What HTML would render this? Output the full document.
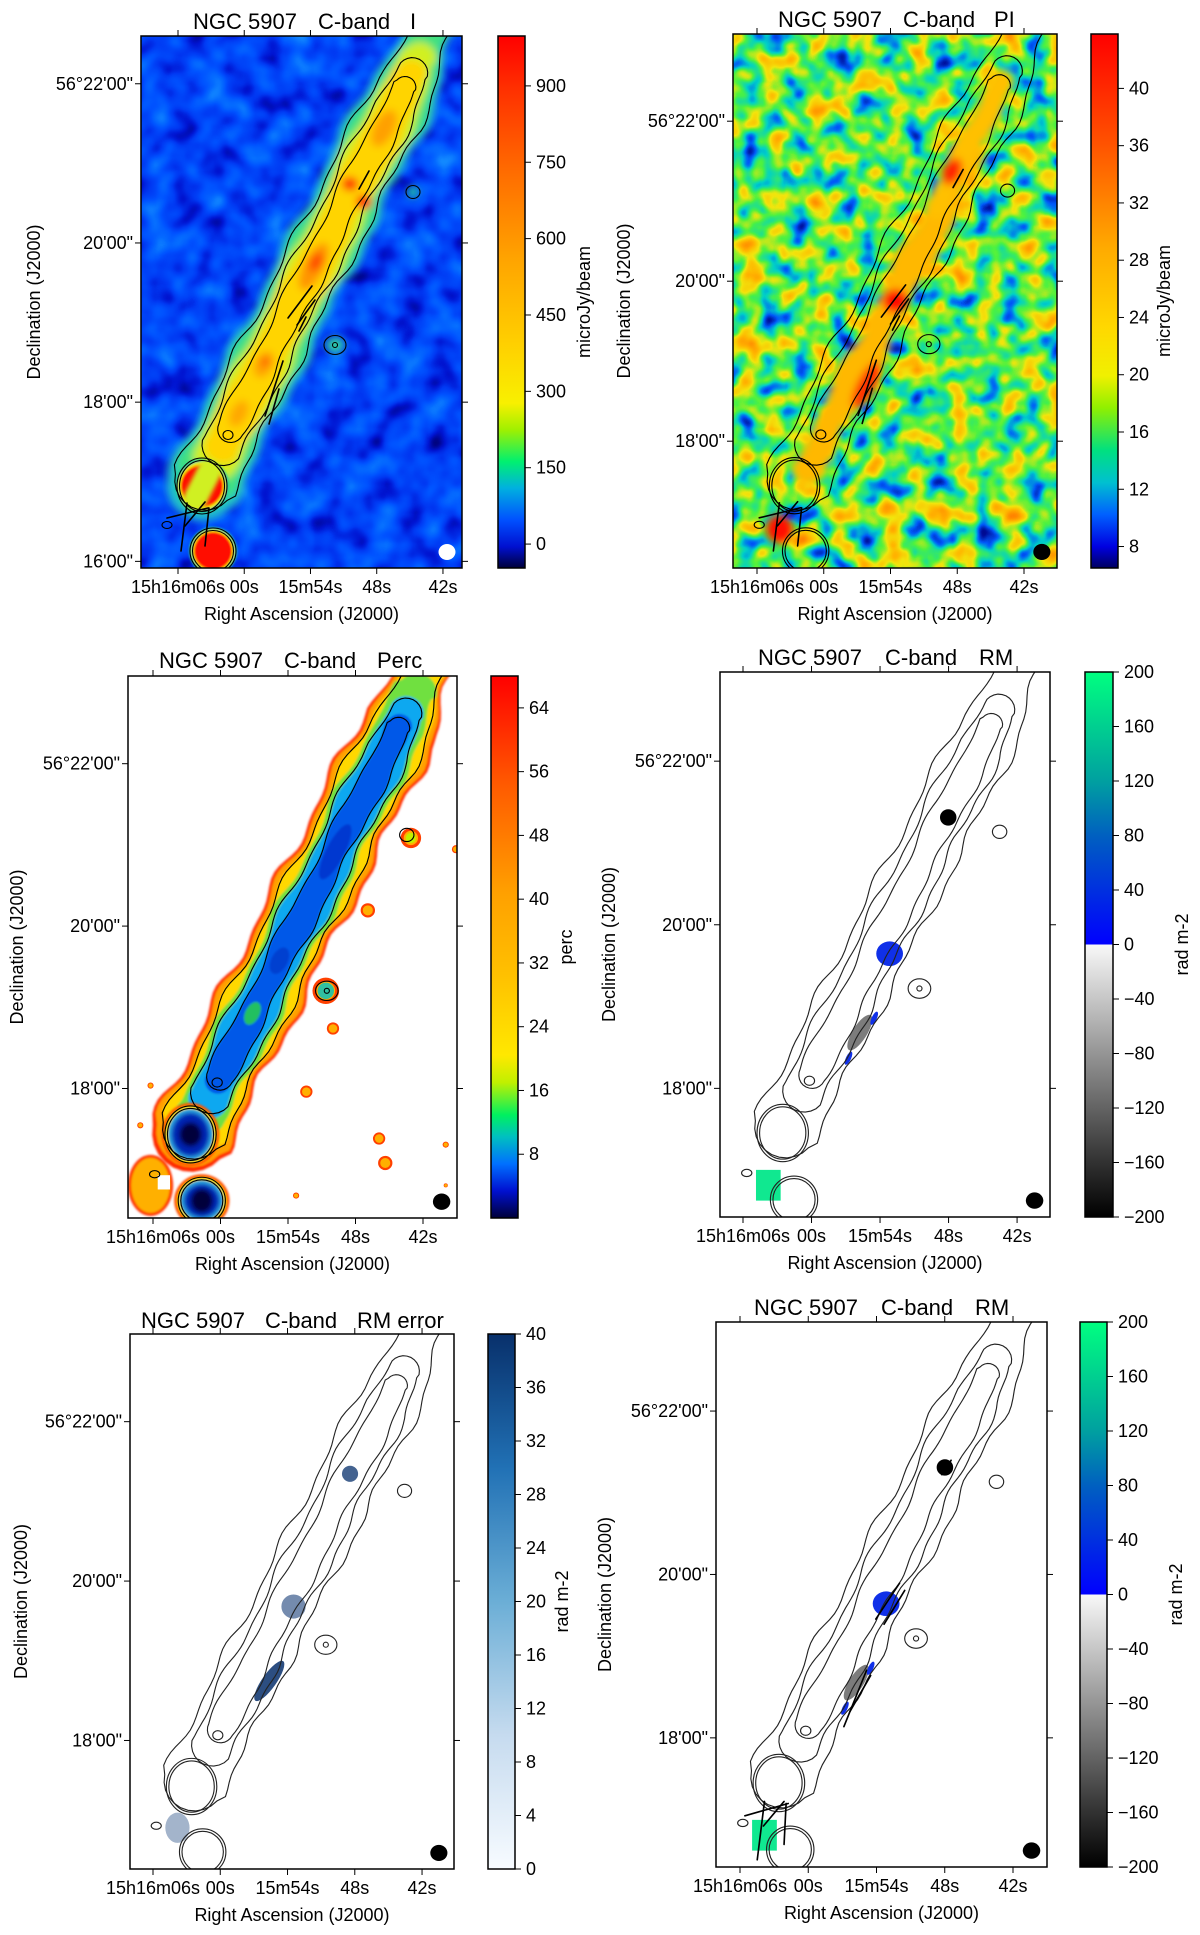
<!DOCTYPE html>
<html><head><meta charset="utf-8"><title>NGC 5907 C-band maps</title>
<style>
html,body{margin:0;padding:0;background:#fff;}
svg{display:block;font-family:"Liberation Sans",Arial,sans-serif;}
</style></head>
<body>
<svg id="fig" xmlns="http://www.w3.org/2000/svg" width="1200" height="1935" viewBox="0 0 1200 1935">
<defs>
<filter id="noise-i" x="0" y="0" width="100%" height="100%" color-interpolation-filters="sRGB">
 <feTurbulence type="fractalNoise" baseFrequency="0.035" numOctaves="2" seed="7"/>
 <feColorMatrix type="matrix" values="1 0 0 0 0 1 0 0 0 0 1 0 0 0 0 0 0 0 0 1"/>
 <feComponentTransfer>
  <feFuncR type="table" tableValues="0 0 0 0 0 0.02 0.08 0.15"/>
  <feFuncG type="table" tableValues="0 0.02 0.08 0.22 0.32 0.42 0.55 0.65"/>
  <feFuncB type="table" tableValues="0.35 0.55 0.82 0.95 1 1 1 0.95"/>
 </feComponentTransfer>
</filter>
<filter id="noise-pi" x="0" y="0" width="100%" height="100%" color-interpolation-filters="sRGB">
 <feTurbulence type="fractalNoise" baseFrequency="0.042" numOctaves="2" seed="11"/>
 <feColorMatrix type="matrix" values="1 0 0 0 0 1 0 0 0 0 1 0 0 0 0 0 0 0 0 1"/>
 <feComponentTransfer>
  <feFuncR type="table" tableValues="0 0 0 0 0.3 0.95 1 1 1"/>
  <feFuncG type="table" tableValues="0 0.05 0.35 0.82 0.95 0.9 0.72 0.55 0.4"/>
  <feFuncB type="table" tableValues="0.35 0.6 0.98 0.78 0.25 0.05 0 0 0"/>
 </feComponentTransfer>
</filter>
<filter id="blur4" x="-30%" y="-30%" width="160%" height="160%"><feGaussianBlur stdDeviation="4"/></filter>
<filter id="blur2" x="-30%" y="-30%" width="160%" height="160%"><feGaussianBlur stdDeviation="2"/></filter>
<filter id="blur1" x="-30%" y="-30%" width="160%" height="160%"><feGaussianBlur stdDeviation="1"/></filter>
</defs>
</svg>
<script>
// ---------- data arrays ----------
const raTickSeconds = [66, 60, 54, 48, 42];
const raTickLabels = ['15h16m06s', '00s', '15m54s', '48s', '42s'];
const decTickArcmin = [22, 20, 18, 16];
const decTickLabels = ['56°22\'00"', '20\'00"', '18\'00"', '16\'00"'];
const cbarTicksI = [0, 150, 300, 450, 600, 750, 900];
const cbarRangeI = [-47, 998];
const cbarTicksPI = [8, 12, 16, 20, 24, 28, 32, 36, 40];
const cbarRangePI = [6.5, 43.8];
const cbarTicksPerc = [8, 16, 24, 32, 40, 48, 56, 64];
const cbarRangePerc = [0, 68];
const cbarTicksRM = [-200, -160, -120, -80, -40, 0, 40, 80, 120, 160, 200];
const cbarRangeRM = [-200, 200];
const cbarTicksErr = [0, 4, 8, 12, 16, 20, 24, 28, 32, 36, 40];
const cbarRangeErr = [0, 40];
const rmPatchValues = [-200, 30, -100, 20, 15, 190];
const rmErrPatchValues = [30, 22, 34, 14];

// ---------- layout ----------
const NS = 'http://www.w3.org/2000/svg';
const svg = document.getElementById('fig');
function mk(tag, attrs, parent) {
  const e = document.createElementNS(NS, tag);
  for (const k in attrs) e.setAttribute(k, attrs[k]);
  (parent || svg).appendChild(e);
  return e;
}
const panels = [
 {key:'stokes-i', box:[141,36,321,532], cb:[498,36,27,532], ty:21, tx:[193,318,410], tt:['NGC 5907','C-band','I'], ra66:178, pps:11.04, decTop:22.60, ppa:79.6, ytx:35, cblx:585, cbl:'microJy/beam', ticks:cbarTicksI, range:cbarRangeI, cmap:'jetI', beam:'#fff'},
 {key:'polarized-intensity', box:[733,34,324,534], cb:[1091,34,27,534], ty:19, tx:[778,903,994], tt:['NGC 5907','C-band','PI'], ra66:757, pps:11.125, decTop:23.09, ppa:80, ytx:625, cblx:1165, cbl:'microJy/beam', ticks:cbarTicksPI, range:cbarRangePI, cmap:'jetPI', beam:'#000'},
 {key:'polarization-fraction', box:[128,676,329,542], cb:[491,676,27,542], ty:660, tx:[159,284,377], tt:['NGC 5907','C-band','Perc'], ra66:153, pps:11.25, decTop:23.08, ppa:81.2, ytx:18, cblx:567, cbl:'perc', ticks:cbarTicksPerc, range:cbarRangePerc, cmap:'jetPerc', beam:'#000'},
 {key:'rotation-measure', box:[720,672,330,545], cb:[1085,672,28,545], ty:657, tx:[758,885,979], tt:['NGC 5907','C-band','RM'], ra66:743, pps:11.42, decTop:23.09, ppa:81.8, ytx:610, cblx:1183, cbl:'rad m-2', ticks:cbarTicksRM, range:cbarRangeRM, cmap:'rm', beam:'#000'},
 {key:'rm-error', box:[130,1334,324,535], cb:[488,1334,27,535], ty:1320, tx:[141,265,357], tt:['NGC 5907','C-band','RM error'], ra66:153, pps:11.21, decTop:23.10, ppa:79.7, ytx:22, cblx:563, cbl:'rad m-2', ticks:cbarTicksErr, range:cbarRangeErr, cmap:'blues', beam:'#000'},
 {key:'rotation-measure-vectors', box:[716,1322,331,545], cb:[1080,1322,27,545], ty:1307, tx:[754,881,975], tt:['NGC 5907','C-band','RM'], ra66:740, pps:11.375, decTop:23.09, ppa:81.7, ytx:606, cblx:1177, cbl:'rad m-2', ticks:cbarTicksRM, range:cbarRangeRM, cmap:'rm', beam:'#000'}
];
const cmaps = {
 jetI: [[0,'#00003a'],[0.04,'#0010d0'],[0.09,'#0050ff'],[0.15,'#00b0e0'],[0.2,'#00f070'],[0.26,'#a0f000'],[0.31,'#f8f000'],[0.42,'#ffd000'],[0.58,'#ffa400'],[0.75,'#ff6a00'],[0.9,'#ff3000'],[1,'#ff0000']],
 jetPI: [[0,'#000060'],[0.04,'#0000e0'],[0.1,'#0060ff'],[0.16,'#00c0d0'],[0.22,'#00e080'],[0.3,'#90f000'],[0.36,'#f0f000'],[0.45,'#ffd800'],[0.6,'#ffaa00'],[0.8,'#ff5000'],[1,'#ff0000']],
 jetPerc: [[0,'#00003a'],[0.05,'#0010d0'],[0.1,'#0070ff'],[0.15,'#00c0c0'],[0.19,'#00f060'],[0.25,'#c0f000'],[0.3,'#ffe800'],[0.45,'#ffc000'],[0.6,'#ffa000'],[0.8,'#ff5a00'],[1,'#ff0000']],
 rm: [[0,'#000000'],[0.5,'#f8f8f8'],[0.5,'#0000ff'],[0.7,'#0060c0'],[0.8,'#00a0a0'],[1,'#00ff80']],
 blues: [[0,'#f7fbff'],[0.25,'#c6dbef'],[0.5,'#6baed6'],[0.75,'#2171b5'],[1,'#08306b']]
};
const defs = svg.querySelector('defs');
for (const name in cmaps) {
  const g = mk('linearGradient', {id:'cm-'+name, x1:0, y1:1, x2:0, y2:0}, defs);
  cmaps[name].forEach(s => mk('stop', {offset:s[0], 'stop-color':s[1]}, g));
}

// ---------- galaxy model geometry (P1 local frame 321x532) ----------
const DIR = [0.454, -0.891], PERP = [0.891, 0.454], CEN = [175, 226];
function gp(t, n) { return [CEN[0]+t*DIR[0]+n*PERP[0], CEN[1]+t*DIR[1]+n*PERP[1]]; }
function taper(t, hw, ts) { return t > ts ? hw * Math.max(0.45, 1 - (t - ts) / 160) : hw; }
function capsule(t0, t1, hw, wob, ph, ts) {
  ts = ts === undefined ? 9999 : ts;
  const pts = [], N = 80;
  const hwEnd = taper(t1, hw, ts);
  for (let i = 0; i <= N; i++) { const t = t0+(t1-t0)*i/N; pts.push(gp(t, taper(t, hw, ts)+wob*Math.sin(t*0.045+ph)+wob*0.6*Math.sin(t*0.12+ph*2))); }
  for (let i = 1; i < 12; i++) { const a = Math.PI*i/12; pts.push(gp(t1+hwEnd*Math.sin(a), hwEnd*Math.cos(a))); }
  for (let i = N; i >= 0; i--) { const t = t0+(t1-t0)*i/N; pts.push(gp(t, -(taper(t, hw, ts)+wob*Math.sin(t*0.05+ph+1.3)+wob*0.6*Math.sin(t*0.1+ph*3)))); }
  for (let i = 1; i < 12; i++) { const a = Math.PI*i/12; pts.push(gp(t0-hw*Math.sin(a), -hw*Math.cos(a))); }
  return 'M' + pts.map(p => p[0].toFixed(1)+','+p[1].toFixed(1)).join('L') + 'Z';
}
function ellAt(t, n, rx, ry, fill, parent, filt) {
  const p = gp(t, n);
  const e = mk('ellipse', {cx:p[0], cy:p[1], rx:rx, ry:ry, fill:fill, transform:`rotate(-63 ${p[0]} ${p[1]})`}, parent);
  if (filt) e.setAttribute('filter', filt);
  return e;
}
const B1 = [61, 450], B2 = [72, 515];

function drawContours(g, stroke) {
  const c = mk('g', {fill:'none', stroke:stroke, 'stroke-width':1.1}, g);
  
  
  mk('path', {d:capsule(-245, 330, 30, 3, 0, 190)}, c);
  mk('path', {d:capsule(-205, 212, 21, 2.5, 1, 170)}, c);
  mk('path', {d:capsule(-188, 196, 13, 2, 2, 170)}, c);
  mk('ellipse', {cx:B1[0], cy:B1[1], rx:25, ry:28}, c);
  mk('ellipse', {cx:B1[0], cy:B1[1], rx:22.5, ry:25.5}, c);
  mk('ellipse', {cx:B2[0], cy:B2[1], rx:23, ry:23}, c);
  mk('ellipse', {cx:B2[0], cy:B2[1], rx:20.5, ry:20.5}, c);
  mk('ellipse', {cx:272, cy:156, rx:7, ry:6.5}, c);
  mk('ellipse', {cx:194, cy:309, rx:11, ry:9.5}, c);
  mk('ellipse', {cx:194, cy:309, rx:2.5, ry:2.5}, c);
  mk('ellipse', {cx:87, cy:399, rx:5, ry:4.5}, c);
  mk('ellipse', {cx:26, cy:489, rx:5, ry:3.5}, c);
}
function drawVectors(g, set) {
  const v = mk('g', {stroke:'#000', 'stroke-width':1.6, 'stroke-linecap':'round'}, g);
  
  
  set.forEach(s => mk('line', {x1:s[0], y1:s[1], x2:s[2], y2:s[3]}, v));
}
const vecI = [[218,153,228,135],[147,282,171,250],[156,289,174,264],[158,295,165,281],[124,380,142,325],[128,388,138,353],[26,482,67,472],[40,515,46,467],[64,510,68,472],[44,490,64,466]];
const vecRM = [[219,149,228,135],[155,290,178,255],[163,295,183,262],[124,395,146,340],[130,380,150,345],[28,482,70,470],[40,525,47,468],[66,510,68,470],[46,492,66,468]];

// ---------- panels ----------
panels.forEach((P, idx) => {
  const [x0, y0, w, h] = P.box;
  const pg = mk('g', {});
  
  
  const clip = mk('clipPath', {id:'clip'+idx}, defs);
  mk('rect', {x:x0, y:y0, width:w, height:h}, clip);
  const plot = mk('g', {'clip-path':`url(#clip${idx})`}, pg);
  
  
  if (idx === 0) mk('rect', {x:x0, y:y0, width:w, height:h, filter:'url(#noise-i)'}, plot);
  else if (idx === 1) mk('rect', {x:x0, y:y0, width:w, height:h, filter:'url(#noise-pi)'}, plot);
  else mk('rect', {x:x0, y:y0, width:w, height:h, fill:'#fff'}, plot);
  const m = mk('g', {transform:`translate(${x0},${y0}) scale(${w/321},${h/532})`}, plot);

  if (idx === 0) {
    const gl = mk('g', {filter:'url(#blur4)'}, m);
    mk('path', {d:capsule(-250, 340, 36, 3, 0, 190), fill:'#20c0c8'}, gl);
    mk('path', {d:capsule(-240, 300, 30, 3, 0, 190), fill:'#40e080'}, gl);
    mk('path', {d:capsule(-218, 228, 24, 2.5, 1, 180), fill:'#d0f020'}, gl);
    mk('path', {d:capsule(-205, 210, 19, 2, 2, 180), fill:'#ffd400'}, gl);
    ellAt(150, 0, 20, 10, '#ffa000', gl); ellAt(-5, 0, 26, 10, '#ff9400', gl);
    ellAt(-115, 0, 14, 9, '#ffa400', gl); ellAt(-170, 0, 14, 8, '#ffa800', gl);
    ellAt(0, 0, 10, 6, '#ff4a00', gl); ellAt(-112, 0, 6, 5, '#ff7000', gl);
    mk('ellipse', {cx:209, cy:148, rx:8, ry:7, fill:'#ff3000'}, gl);
    mk('ellipse', {cx:223, cy:166, rx:8, ry:7, fill:'#ff2000'}, gl);
    mk('ellipse', {cx:272, cy:156, rx:6, ry:6, fill:'#20c8b0'}, gl);
    mk('ellipse', {cx:194, cy:309, rx:9, ry:8, fill:'#30d0a0'}, gl);
    const bl = mk('g', {filter:'url(#blur1)'}, m);
    [B1, B2].forEach((b, j) => {
      mk('circle', {cx:b[0], cy:b[1], r:j?24:27, fill:'#20c8a0'}, bl);
      mk('circle', {cx:b[0], cy:b[1], r:j?21.5:24, fill:'#f0e800'}, bl);
      mk('circle', {cx:b[0], cy:b[1], r:j?19:21, fill:'#ff0800'}, bl);
    });
    mk('path', {d:capsule(-265, -235, 12, 0, 0), fill:'#d0f020', filter:'url(#blur2)'}, m);
    drawContours(m, '#000');
    drawVectors(m, vecI);
  } else if (idx === 1) {
    const gl = mk('g', {filter:'url(#blur4)'}, m);
    mk('path', {d:capsule(-230, 120, 16, 3, 0.5), fill:'#ffb800', transform:'translate(4,2)'}, gl);
    mk('path', {d:capsule(60, 200, 12, 2, 0.5), fill:'#ffc000'}, gl);
    mk('ellipse', {cx:217, cy:137, rx:9, ry:14, fill:'#ff2000', transform:'rotate(25 217 137)'}, gl);
    mk('ellipse', {cx:161, cy:266, rx:13, ry:12, fill:'#ff1000'}, gl);
    mk('ellipse', {cx:132, cy:350, rx:9, ry:26, fill:'#ff3000', transform:'rotate(27 132 350)'}, gl);
    mk('ellipse', {cx:46, cy:493, rx:13, ry:14, fill:'#ff0a00'}, gl);
    drawContours(m, '#000');
    drawVectors(m, vecI);
  } else if (idx === 2) {
    const gl = mk('g', {filter:'url(#blur1)'}, m);
    mk('path', {d:capsule(-250, 340, 38, 4, 0, 200), fill:'#ff2a00'}, gl);
    mk('path', {d:capsule(-248, 340, 35, 4, 0, 200), fill:'#ffa000'}, gl);
    mk('path', {d:capsule(-242, 320, 30, 3.5, 0, 200), fill:'#ffd800'}, gl);
    mk('path', {d:capsule(-225, 235, 25, 3, 1, 200), fill:'#70e040'}, gl);
    mk('path', {d:capsule(-212, 212, 20, 2.5, 1, 190), fill:'#10a8f0'}, gl);
    mk('path', {d:capsule(-192, 198, 13, 2, 2, 190), fill:'#0058e8'}, gl);
    ellAt(60, 0, 30, 9, '#0038d0', gl); ellAt(-60, 0, 14, 8, '#0040d0', gl);
    ellAt(-118, 0, 12, 7, '#20c060', gl);
    const blobs = mk('g', {filter:'url(#blur1)'}, m);
    [B1, B2].forEach((b, j) => {
      mk('ellipse', {cx:b[0], cy:b[1], rx:j?27:28, ry:j?26:31, fill:'#ff5000'}, blobs);
      mk('ellipse', {cx:b[0], cy:b[1], rx:j?24:25, ry:j?23:28, fill:'#f0e000'}, blobs);
      mk('ellipse', {cx:b[0], cy:b[1], rx:j?21:22, ry:j?20:25, fill:'#30b0e0'}, blobs);
      mk('ellipse', {cx:b[0], cy:b[1], rx:j?17:18, ry:j?16:21, fill:'#0020b0', filter:'url(#blur2)'}, blobs);
      mk('ellipse', {cx:b[0], cy:b[1], rx:10, ry:11, fill:'#00003a', filter:'url(#blur2)'}, blobs);
    });
    const pa = mk('g', {filter:'url(#blur1)'}, m);
    mk('ellipse', {cx:22, cy:500, rx:22, ry:30, fill:'#ff3000'}, pa);
    mk('ellipse', {cx:22, cy:500, rx:19, ry:27, fill:'#ffb000'}, pa);
    mk('rect', {x:29, y:490, width:12, height:14, fill:'#fff'}, m);
    const spots = [[174,408,6],[245,454,6],[251,478,7],[310,460,3],[22,402,3],[12,441,3],[234,230,7],[276,159,10],[164,510,3],[193,309,13],[200,346,6],[310,500,2],[320,170,4]];
    spots.forEach(s => { mk('circle', {cx:s[0], cy:s[1], r:s[2], fill:'#ff4000'}, m); mk('circle', {cx:s[0], cy:s[1], r:s[2]*0.7, fill:'#ffb000'}, m); });
    mk('circle', {cx:276, cy:159, r:5, fill:'#c0f000'}, m);
    mk('circle', {cx:193, cy:309, r:8, fill:'#30c0a0'}, m);
    drawContours(m, '#000');
  } else if (idx === 3 || idx === 5) {
    const rmColor = v => v >= 0 ? (v > 150 ? '#10e890' : (v > 60 ? '#0a60d0' : '#1030e8')) : `rgb(${Math.round(248*(1+v/200))},${Math.round(248*(1+v/200))},${Math.round(248*(1+v/200))})`;
    const rp = mk('g', {}, m);
    
    
    mk('circle', {cx:222, cy:142, r:8, fill:rmColor(rmPatchValues[0])}, rp);
    mk('ellipse', {cx:165, cy:275, rx:13, ry:12, fill:rmColor(rmPatchValues[1])}, rp);
    mk('ellipse', {cx:136, cy:352, rx:7, ry:20, fill:rmColor(rmPatchValues[2]), transform:'rotate(32 136 352)'}, rp);
    mk('ellipse', {cx:150, cy:338, rx:2.5, ry:7, fill:rmColor(rmPatchValues[3]), transform:'rotate(25 150 338)'}, rp);
    mk('ellipse', {cx:125, cy:377, rx:2.5, ry:7, fill:rmColor(rmPatchValues[4]), transform:'rotate(25 125 377)'}, rp);
    mk('rect', {x:35, y:486, width:24, height:30, fill:rmColor(rmPatchValues[5])}, rp);
    drawContours(m, '#222');
    if (idx === 5) drawVectors(m, vecRM);
  } else if (idx === 4) {
    const errColor = v => { const f = v/40; return `rgb(${Math.round(247-239*f)},${Math.round(251-203*f)},${Math.round(255-148*f)})`; };
    const ep = mk('g', {}, m);
    
    
    mk('circle', {cx:218, cy:139, r:8, fill:errColor(rmErrPatchValues[0])}, ep);
    mk('circle', {cx:162, cy:271, r:12, fill:errColor(rmErrPatchValues[1])}, ep);
    mk('ellipse', {cx:138, cy:345, rx:7, ry:24, fill:errColor(rmErrPatchValues[2]), transform:'rotate(35 138 345)'}, ep);
    mk('ellipse', {cx:47, cy:491, rx:12, ry:15, fill:errColor(rmErrPatchValues[3])}, ep);
    drawContours(m, '#222');
  }
  const bm = mk('ellipse', {cx:306, cy:516, rx:8.5, ry:8, fill:P.beam}, m);
  
  

  mk('rect', {x:x0, y:y0, width:w, height:h, fill:'none', stroke:'#000', 'stroke-width':1.5}, pg);
  const raG = mk('g', {'font-size':18, 'text-anchor':'middle', fill:'#000'}, pg);
  
  
  raTickSeconds.forEach((s, i) => {
    const x = P.ra66 + (66 - s) * P.pps;
    mk('line', {x1:x, y1:y0, x2:x, y2:y0-6, stroke:'#000'}, raG);
    mk('line', {x1:x, y1:y0+h, x2:x, y2:y0+h+6, stroke:'#000'}, raG);
    const t = mk('text', {x:x, y:y0+h+25}, raG); t.textContent = raTickLabels[i];
  });
  const xt = mk('text', {x:x0+w/2, y:y0+h+52, 'font-size':18, 'text-anchor':'middle'}, pg);
  xt.textContent = 'Right Ascension (J2000)';
  
  
  const dG = mk('g', {'font-size':18, 'text-anchor':'end'}, pg);
  
  
  decTickArcmin.forEach((d, i) => {
    const y = y0 + (P.decTop - d) * P.ppa;
    if (y > y0 + h + 1) return;
    mk('line', {x1:x0-6, y1:y, x2:x0, y2:y, stroke:'#000'}, dG);
    mk('line', {x1:x0+w, y1:y, x2:x0+w+6, y2:y, stroke:'#000'}, dG);
    const t = mk('text', {x:x0-8, y:y+6}, dG); t.textContent = decTickLabels[i];
  });
  const yc = y0 + h/2;
  const yt = mk('text', {x:P.ytx, y:yc, 'font-size':18, 'text-anchor':'middle', transform:`rotate(-90 ${P.ytx} ${yc})`, 'dominant-baseline':'middle'}, pg);
  yt.textContent = 'Declination (J2000)';
  
  
  const tg = mk('g', {'font-size':22}, pg);
  
  
  P.tt.forEach((s, i) => { const t = mk('text', {x:P.tx[i], y:P.ty+8}, tg); t.textContent = s; });
  const [cx, cy, cw, ch] = P.cb;
  const cg = mk('g', {}, pg);
  
  
  mk('rect', {x:cx, y:cy, width:cw, height:ch, fill:`url(#cm-${P.cmap})`, stroke:'#000', 'stroke-width':1.5}, cg);
  const [lo, hi] = P.range;
  const cScale = v => cy + ch - (v - lo) / (hi - lo) * ch;
  P.ticks.forEach(v => {
    const y = cScale(v);
    mk('line', {x1:cx+cw, y1:y, x2:cx+cw+6, y2:y, stroke:'#000'}, cg);
    const t = mk('text', {x:cx+cw+11, y:y+6, 'font-size':18}, cg);
    t.textContent = v < 0 ? '\u2212' + Math.abs(v) : String(v);
  });
  const cl = mk('text', {x:P.cblx, y:cy+ch/2, 'font-size':18, 'text-anchor':'middle', 'dominant-baseline':'middle', transform:`rotate(-90 ${P.cblx} ${cy+ch/2})`}, cg);
  cl.textContent = P.cbl;
  
  
});
</script>
</body></html>
